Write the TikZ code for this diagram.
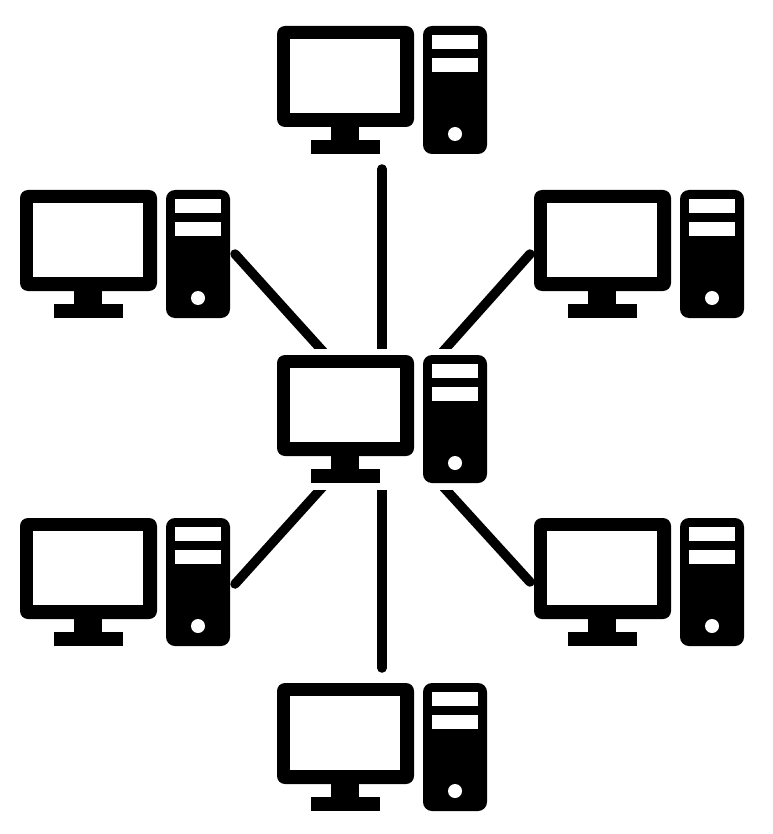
\documentclass[tikz,border=0pt]{standalone}
\usetikzlibrary{calc}
\tikzset{
  x=1pt,y=-1pt,
  solid part/.style={fill=black,draw=none},
  hole/.style={fill=white,draw=none},
  computer/.style={rectangle,draw=none,fill=none,inner sep=0pt,outer sep=0pt,minimum width=210pt,minimum height=128pt},
  link/.style={draw=black,line width=9.5pt,line cap=round},
  pics/workstation/.style={code={
    % monitor
    \path[solid part,even odd rule,rounded corners=8pt] (0,0) rectangle (137,101);
    \path[hole] (13,13) rectangle (123,87);
    % stand
    \path[solid part] (54,100) rectangle (82,115);
    \path[solid part] (34,114) rectangle (103,128);
    % tower
    \path[solid part,rounded corners=9pt] (146,0) rectangle (210,128);
    \path[hole] (155,9) rectangle (201,23);
    \path[hole] (155,32) rectangle (201,46);
    \path[hole] (178,108) circle (7);
  }}
}
\newcommand{\computerat}[3]{%
  \pic at (#2,#3) {workstation};
  \node[computer,anchor=north west] (#1) at (#2,#3) {};
}
\begin{document}
\begin{tikzpicture}
\useasboundingbox (0,0) rectangle (772,834);
\computerat{top}{277}{26}
\computerat{upleft}{20}{190}
\computerat{upright}{534}{190}
\computerat{hub}{277}{355}
\computerat{lowleft}{20}{518}
\computerat{lowright}{534}{518}
\computerat{bottom}{277}{683}
% connectors: the hub end is cut flat just off the hub
\begin{scope}
  \clip (0,0) rectangle (772,348);
  \draw[link] ($(top.south west)+(105,15)$) -- ($(hub.north west)+(105,10)$);
  \draw[link] ($(upleft.north east)+(5,64)$) -- ($(hub.north west)+(51,2)$);
  \draw[link] ($(upright.north west)+(-4,64)$) -- ($(hub.north west)+(161,2)$);
\end{scope}
\begin{scope}
  \clip (0,490) rectangle (772,834);
  \draw[link] ($(bottom.north west)+(105,-15)$) -- ($(hub.south west)+(105,-10)$);
  \draw[link] ($(lowleft.north east)+(5,66)$) -- ($(hub.south west)+(51,-2)$);
  \draw[link] ($(lowright.north west)+(-4,64)$) -- ($(hub.south west)+(161,-2)$);
\end{scope}
\end{tikzpicture}
\end{document}
